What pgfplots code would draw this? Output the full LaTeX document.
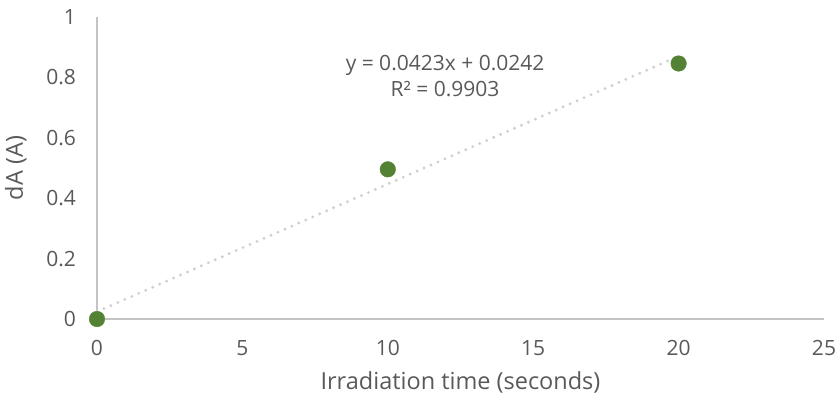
\documentclass[border=0pt]{standalone}
\usepackage{pgfplots}
\pgfplotsset{compat=1.18}
\usepackage{fontspec}
\setmainfont{Open Sans}
\definecolor{txt}{HTML}{595959}
\definecolor{axisgray}{HTML}{C4C4C4}
\definecolor{trend}{HTML}{CFCFCF}
\definecolor{ptgreen}{HTML}{548235}

\begin{document}
\fontsize{20.5}{24}\selectfont
\begin{tikzpicture}
% keep the page the size of the reference (838 x 405)
\path[use as bounding box] (-97pt,-86pt) rectangle (741pt,319pt);
\begin{axis}[
    scale only axis,
    width=727pt, height=302pt,
    xmin=0, xmax=25, ymin=0, ymax=1,
    xtick={0,5,...,25},
    ytick={0,0.2,...,1},
    axis x line*=bottom, axis y line*=left,
    axis line style={axisgray, line width=1.3pt, -},
    major tick length=0pt,
    tick label style={txt, font=\fontsize{21}{24}\selectfont},
    /pgf/number format/assume math mode=true,
    yticklabel style={xshift=-14pt},
    xticklabel style={yshift=-14pt},
    xlabel={Irradiation time (seconds)},
    ylabel={dA (A)},
    label style={txt, font=\fontsize{23.5}{27}\selectfont},
    xlabel style={yshift=-2pt},
    ylabel style={yshift=6pt},
    clip=false,
]
% linear trendline y = 0.0423x + 0.0242
\addplot[trend, line width=3.2pt, dash pattern=on 0pt off 7.6pt, line cap=round]
    coordinates {(0,0.0242) (20,0.8702)};
\addplot[only marks, mark=*, mark size=7.8pt, ptgreen, mark options={draw=ptgreen, fill=ptgreen}]
    coordinates {(0,0) (10,0.4956) (20,0.846)};
\node[txt, align=center, font=\fontsize{21}{26}\selectfont]
    at (axis cs:11.97,0.806) {y = 0.0423x + 0.0242\\R² = 0.9903};
\end{axis}
\end{tikzpicture}
\end{document}
